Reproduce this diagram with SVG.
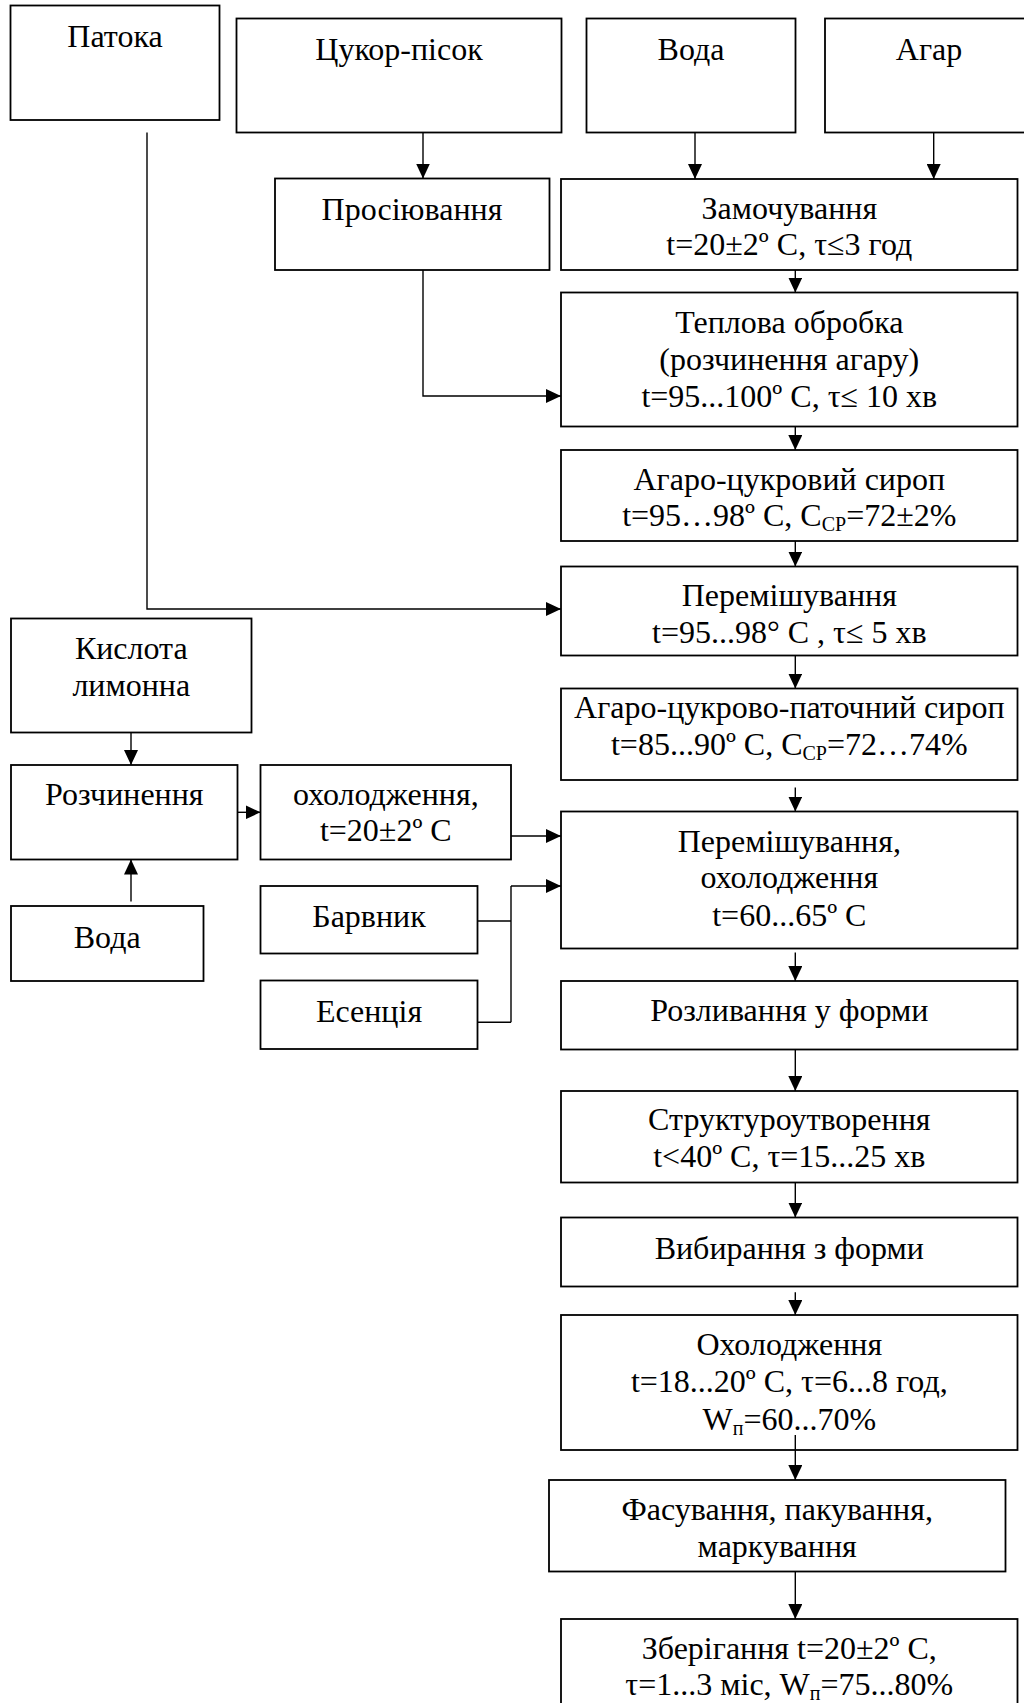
<svg xmlns="http://www.w3.org/2000/svg" width="1024" height="1703" viewBox="0 0 1024 1703">
  <style>
    .box { fill: #ffffff; stroke: #000000; stroke-width: 1.8; }
    .lbl { font-family: "Liberation Serif", "Times New Roman", serif; font-size: 32px; fill: #000000; text-anchor: middle; }
    .sub { font-size: 20px; }
    .wire { fill: none; stroke: #000000; stroke-width: 1.4; }
    .arrow { marker-end: url(#head); }
  </style>
  <defs>
    <marker id="head" markerUnits="userSpaceOnUse" markerWidth="15" markerHeight="14" refX="15" refY="7" orient="auto">
      <path d="M0,0 L15,7 L0,14 Z" fill="#000000"/>
    </marker>
  </defs>

  <rect x="0" y="0" width="1024" height="1703" fill="#ffffff"/>

  <!-- raw materials -->
  <g id="patoka">
    <rect class="box" x="10.5" y="5.5" width="209" height="114.5"/>
    <text class="lbl" x="115" y="46.5">Патока</text>
  </g>
  <g id="tsukor">
    <rect class="box" x="236.5" y="18.5" width="325" height="114"/>
    <text class="lbl" x="399" y="59.5">Цукор-пісок</text>
  </g>
  <g id="voda-1">
    <rect class="box" x="586.5" y="18.5" width="209" height="114"/>
    <text class="lbl" x="691" y="59.5">Вода</text>
  </g>
  <g id="agar">
    <rect class="box" x="825" y="18.5" width="207" height="114"/>
    <text class="lbl" x="929" y="59.5">Агар</text>
  </g>

  <!-- preparation -->
  <g id="prosiyuvannya">
    <rect class="box" x="275" y="178.5" width="274.5" height="91.5"/>
    <text class="lbl" x="412" y="219.5">Просіювання</text>
  </g>
  <g id="zamochuvannya">
    <rect class="box" x="561" y="179" width="456.5" height="91"/>
    <text class="lbl" x="789.3" y="218.5">Замочування</text>
    <text class="lbl" x="789.3" y="255">t=20±2º C, τ≤3 год</text>
  </g>
  <g id="teplova">
    <rect class="box" x="561" y="292.5" width="456.5" height="134"/>
    <text class="lbl" x="789.3" y="332.5">Теплова обробка</text>
    <text class="lbl" x="789.3" y="369.5">(розчинення агару)</text>
    <text class="lbl" x="789.3" y="406.5">t=95...100º C, τ≤ 10 хв</text>
  </g>
  <g id="syrop-1">
    <rect class="box" x="561" y="450" width="456.5" height="91"/>
    <text class="lbl" x="789.3" y="490">Агаро-цукровий сироп</text>
    <text class="lbl" x="789.3" y="526">t=95…98º C, C<tspan class="sub" dy="5">CP</tspan><tspan dy="-5">=72±2%</tspan></text>
  </g>
  <g id="peremishuvannya-1">
    <rect class="box" x="561" y="566.5" width="456.5" height="89"/>
    <text class="lbl" x="789.3" y="605.5">Перемішування</text>
    <text class="lbl" x="789.3" y="642.5">t=95...98° C , τ≤ 5 хв</text>
  </g>
  <g id="syrop-2">
    <rect class="box" x="561" y="688.5" width="456.5" height="91.5"/>
    <text class="lbl" x="789.3" y="717.5">Агаро-цукрово-паточний сироп</text>
    <text class="lbl" x="789.3" y="755">t=85...90º C, C<tspan class="sub" dy="5">CP</tspan><tspan dy="-5">=72…74%</tspan></text>
  </g>

  <!-- acid branch -->
  <g id="kyslota">
    <rect class="box" x="11" y="618.5" width="240.5" height="114"/>
    <text class="lbl" x="131.3" y="658.5">Кислота</text>
    <text class="lbl" x="131.3" y="696">лимонна</text>
  </g>
  <g id="rozchynennya">
    <rect class="box" x="11" y="765" width="226.5" height="94.5"/>
    <text class="lbl" x="124.3" y="805">Розчинення</text>
  </g>
  <g id="okholodzhennya-1">
    <rect class="box" x="260.5" y="765" width="250.5" height="94.5"/>
    <text class="lbl" x="385.8" y="805">охолодження,</text>
    <text class="lbl" x="385.8" y="841">t=20±2º C</text>
  </g>
  <g id="voda-2">
    <rect class="box" x="11" y="906" width="192.5" height="75"/>
    <text class="lbl" x="107.2" y="947.5">Вода</text>
  </g>
  <g id="barvnyk">
    <rect class="box" x="260.5" y="886" width="217" height="67.5"/>
    <text class="lbl" x="369" y="926.5">Барвник</text>
  </g>
  <g id="esentsiya">
    <rect class="box" x="260.5" y="980.5" width="217" height="68.5"/>
    <text class="lbl" x="369" y="1021.5">Есенція</text>
  </g>

  <!-- moulding and finishing -->
  <g id="peremishuvannya-2">
    <rect class="box" x="561" y="811.5" width="456.5" height="137"/>
    <text class="lbl" x="789.3" y="852">Перемішування,</text>
    <text class="lbl" x="789.3" y="887.5">охолодження</text>
    <text class="lbl" x="789.3" y="925.5">t=60...65º C</text>
  </g>
  <g id="rozlyvannya">
    <rect class="box" x="561" y="981" width="456.5" height="68.5"/>
    <text class="lbl" x="789.3" y="1021">Розливання у форми</text>
  </g>
  <g id="strukturoutvorennya">
    <rect class="box" x="561" y="1091" width="456.5" height="91.5"/>
    <text class="lbl" x="789.3" y="1130">Структуроутворення</text>
    <text class="lbl" x="789.3" y="1166.5">t&lt;40º C, τ=15...25 хв</text>
  </g>
  <g id="vybyrannya">
    <rect class="box" x="561" y="1217.5" width="456.5" height="69"/>
    <text class="lbl" x="789.3" y="1258.5">Вибирання з форми</text>
  </g>
  <g id="okholodzhennya-2">
    <rect class="box" x="561" y="1315" width="456.5" height="135"/>
    <text class="lbl" x="789.3" y="1355">Охолодження</text>
    <text class="lbl" x="789.3" y="1391.5">t=18...20º C, τ=6...8 год,</text>
    <text class="lbl" x="789.3" y="1429.5">W<tspan class="sub" dy="5">п</tspan><tspan dy="-5">=60...70%</tspan></text>
  </g>
  <g id="fasuvannya">
    <rect class="box" x="549" y="1480" width="456.5" height="91.5"/>
    <text class="lbl" x="777.2" y="1520">Фасування, пакування,</text>
    <text class="lbl" x="777.2" y="1556.5">маркування</text>
  </g>
  <g id="zberigannya">
    <rect class="box" x="561" y="1619" width="456.5" height="95"/>
    <text class="lbl" x="789.3" y="1658.5">Зберігання t=20±2º C,</text>
    <text class="lbl" x="789.3" y="1695">τ=1...3 міс, W<tspan class="sub" dy="5">п</tspan><tspan dy="-5">=75...80%</tspan></text>
  </g>

  <!-- flow lines -->
  <g id="connectors" class="wire">
    <path class="arrow" d="M423,132.5 V178.5"/>
    <path class="arrow" d="M695,132.5 V179"/>
    <path class="arrow" d="M933.7,132.5 V179"/>
    <path class="arrow" d="M795.3,270 V292.5"/>
    <path class="arrow" d="M423,270 V396 H561"/>
    <path class="arrow" d="M795.3,426.5 V450"/>
    <path class="arrow" d="M795.3,541 V566.5"/>
    <path class="arrow" d="M147,132.5 V609 H561"/>
    <path class="arrow" d="M795.3,655.5 V688.5"/>
    <path class="arrow" d="M795.3,787.5 V811.5"/>
    <path class="arrow" d="M131,732.5 V765"/>
    <path class="arrow" d="M131,901.5 V859.5"/>
    <path class="arrow" d="M237.5,812.3 H260.5"/>
    <path class="arrow" d="M511,836 H561"/>
    <path d="M477.5,921 H511 M477.5,1022.3 H511 M511,1022.3 V886"/>
    <path class="arrow" d="M511,886 H561"/>
    <path class="arrow" d="M795.3,952.5 V981"/>
    <path class="arrow" d="M795.3,1049.5 V1091"/>
    <path class="arrow" d="M795.3,1182.5 V1217.5"/>
    <path class="arrow" d="M795.3,1292.3 V1315"/>
    <path class="arrow" d="M795.3,1435 V1480"/>
    <path class="arrow" d="M795.3,1571.5 V1619"/>
  </g>
</svg>
